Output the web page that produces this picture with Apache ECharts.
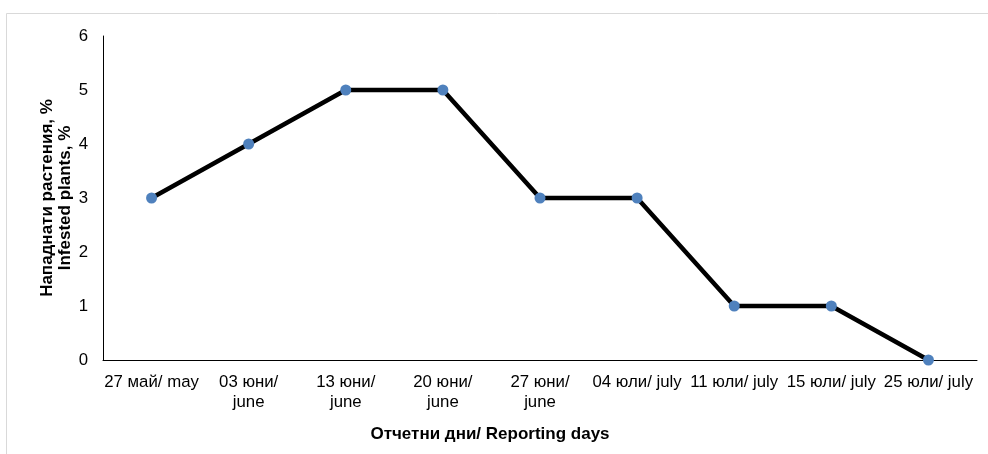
<!DOCTYPE html>
<html>
<head>
<meta charset="utf-8">
<script src="https://cdn.jsdelivr.net/npm/echarts@6/dist/echarts.min.js"></script>
<style>
html,body{margin:0;padding:0;background:#fff;}
#c{width:988px;height:454px;}
</style>
</head>
<body>
<div id="c"></div>
<script>
const categories = ["27 май/ may", "03 юни/\njune", "13 юни/\njune", "20 юни/\njune", "27 юни/\njune", "04 юли/ july", "11 юли/ july", "15 юли/ july", "25 юли/ july"];
const values = [3, 4, 5, 5, 3, 3, 1, 1, 0];
const yTicks = [0, 1, 2, 3, 4, 5, 6];
const yTitle = "Нападнати растения, %\nInfested plants, %";
const xTitle = "Отчетни дни/ Reporting days";

const chart = echarts.init(document.getElementById('c'), null, {renderer: 'canvas'});
const font = "'Liberation Sans', Arial, sans-serif";
chart.setOption({
  animation: false,
  backgroundColor: '#fff',
  graphic: [{
    type: 'rect',
    shape: {x: 6.5, y: 13.5, width: 1000, height: 500},
    style: {fill: 'none', stroke: '#d9d9d9', lineWidth: 1},
    silent: true, z: -1
  }],
  grid: {left: 103, right: 11, top: 36, bottom: 94},
  xAxis: {
    type: 'category',
    data: categories,
    boundaryGap: true,
    axisLine: {lineStyle: {color: '#000', width: 1}},
    axisTick: {show: false},
    axisLabel: {color: '#000', fontFamily: font, fontSize: 16.8, lineHeight: 20, margin: 12, interval: 0, align: 'center'},
    name: xTitle,
    nameLocation: 'middle',
    nameGap: 66,
    nameMoveOverlap: false,
    nameTextStyle: {color: '#000', fontFamily: font, fontSize: 17, fontWeight: 'bold', padding: [0, 100, 0, 0]}
  },
  yAxis: {
    type: 'value',
    min: yTicks[0],
    max: yTicks[yTicks.length - 1],
    interval: 1,
    splitLine: {show: false},
    axisLine: {show: true, lineStyle: {color: '#000', width: 1}},
    axisTick: {show: false},
    axisLabel: {color: '#000', fontFamily: font, fontSize: 16.8, margin: 15},
    name: yTitle,
    nameLocation: 'middle',
    nameGap: 29,
    nameMoveOverlap: false,
    nameRotate: 90,
    nameTextStyle: {color: '#000', fontFamily: font, fontSize: 17, fontWeight: 'bold', lineHeight: 18}
  },
  series: [{
    type: 'line',
    data: values,
    symbol: 'circle',
    symbolSize: 11,
    lineStyle: {color: '#000', width: 4.5},
    itemStyle: {color: '#4F81BD', borderWidth: 0}
  }]
});
</script>
</body>
</html>
